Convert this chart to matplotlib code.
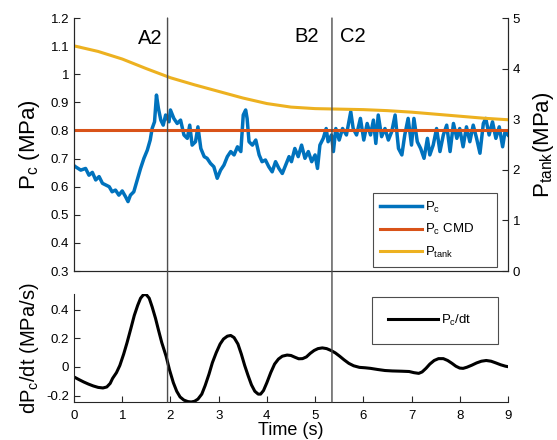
import numpy as np
import matplotlib.pyplot as plt
from matplotlib.patches import ConnectionPatch
from matplotlib.ticker import FormatStrFormatter

plt.rcParams['font.family'] = ['Liberation Sans', 'DejaVu Sans']
plt.rcParams['mathtext.default'] = 'regular'
plt.rcParams['axes.unicode_minus'] = False
plt.rcParams['xtick.direction'] = 'in'
plt.rcParams['ytick.direction'] = 'in'

# chamber pressure (MPa)
t_pc = [0.00, 0.03, 0.14, 0.24, 0.31, 0.38, 0.45, 0.52, 0.59, 0.66, 0.73, 0.79, 0.86,
        0.93, 1.00, 1.07, 1.12, 1.17, 1.24, 1.31, 1.38, 1.45, 1.52, 1.58, 1.62, 1.67,
        1.71, 1.75, 1.80, 1.85, 1.90, 1.97, 2.00, 2.07, 2.14, 2.21, 2.28, 2.35, 2.40,
        2.45, 2.52, 2.57, 2.63, 2.70, 2.76, 2.83, 2.90, 2.97, 3.04, 3.11, 3.18, 3.25,
        3.32, 3.39, 3.46, 3.51, 3.56, 3.59, 3.63, 3.70, 3.77, 3.84, 3.90, 3.97, 4.04,
        4.11, 4.18, 4.25, 4.32, 4.39, 4.46, 4.51, 4.58, 4.65, 4.72, 4.79, 4.86, 4.93,
        5.00, 5.05, 5.10, 5.17, 5.23, 5.27, 5.34, 5.38, 5.43, 5.50, 5.57, 5.65, 5.74,
        5.79, 5.86, 5.94, 6.01, 6.08, 6.15, 6.21, 6.26, 6.31, 6.38, 6.45, 6.52, 6.59,
        6.66, 6.73, 6.80, 6.86, 6.93, 7.00, 7.05, 7.12, 7.19, 7.26, 7.33, 7.38, 7.45,
        7.52, 7.59, 7.66, 7.73, 7.80, 7.87, 7.94, 8.00, 8.07, 8.14, 8.21, 8.28, 8.35,
        8.42, 8.49, 8.54, 8.61, 8.68, 8.75, 8.82, 8.89, 8.94, 9.00]
pc = [0.675, 0.671, 0.659, 0.665, 0.641, 0.651, 0.624, 0.636, 0.612, 0.606, 0.600, 0.582,
      0.588, 0.570, 0.585, 0.564, 0.547, 0.570, 0.582, 0.624, 0.665, 0.701, 0.730, 0.766,
      0.807, 0.831, 0.926, 0.879, 0.837, 0.819, 0.855, 0.831, 0.873, 0.843, 0.825, 0.837,
      0.784, 0.772, 0.819, 0.748, 0.760, 0.813, 0.736, 0.707, 0.701, 0.683, 0.671, 0.630,
      0.659, 0.677, 0.707, 0.725, 0.713, 0.742, 0.725, 0.855, 0.873, 0.843, 0.760, 0.748,
      0.766, 0.713, 0.689, 0.695, 0.671, 0.653, 0.689, 0.665, 0.647, 0.677, 0.707, 0.689,
      0.736, 0.707, 0.748, 0.701, 0.725, 0.689, 0.713, 0.665, 0.748, 0.772, 0.807, 0.760,
      0.784, 0.725, 0.807, 0.766, 0.807, 0.784, 0.867, 0.807, 0.784, 0.843, 0.766, 0.825,
      0.784, 0.837, 0.754, 0.855, 0.778, 0.807, 0.766, 0.796, 0.855, 0.736, 0.713, 0.784,
      0.843, 0.748, 0.843, 0.760, 0.736, 0.701, 0.772, 0.713, 0.748, 0.807, 0.725, 0.784,
      0.819, 0.725, 0.825, 0.772, 0.807, 0.742, 0.813, 0.760, 0.819, 0.772, 0.719, 0.825,
      0.843, 0.784, 0.831, 0.772, 0.813, 0.742, 0.796, 0.784]
pc_cmd = 0.8

# tank pressure (MPa)
t_tank = [0.0, 0.5, 1.0, 1.5, 2.0, 2.5, 3.0, 3.5, 4.0, 4.5, 5.0, 5.5, 6.0, 6.5, 7.0,
          7.5, 8.0, 8.5, 9.0]
p_tank = [4.45, 4.34, 4.19, 4.00, 3.82, 3.68, 3.55, 3.42, 3.31, 3.24, 3.21, 3.20, 3.19,
          3.17, 3.14, 3.10, 3.06, 3.02, 2.99]

# derivative of chamber pressure (MPa/s)
t_dpdt = [0.00, 0.10, 0.20, 0.30, 0.40, 0.50, 0.60, 0.68, 0.75, 0.80, 0.88, 0.95, 1.03,
          1.10, 1.18, 1.25, 1.32, 1.38, 1.44, 1.50, 1.56, 1.62, 1.69, 1.75, 1.82, 1.91,
          1.98, 2.06, 2.13, 2.20, 2.28, 2.36, 2.43, 2.50, 2.57, 2.65, 2.72, 2.80, 2.87,
          2.95, 3.03, 3.10, 3.18, 3.25, 3.32, 3.40, 3.47, 3.54, 3.61, 3.68, 3.75, 3.82,
          3.87, 3.93, 4.00, 4.08, 4.16, 4.24, 4.32, 4.42, 4.50, 4.58, 4.66, 4.74, 4.82,
          4.90, 4.98, 5.06, 5.15, 5.24, 5.33, 5.42, 5.51, 5.60, 5.70, 5.80, 5.92, 6.04,
          6.15, 6.30, 6.45, 6.60, 6.80, 6.95, 7.05, 7.15, 7.22, 7.30, 7.38, 7.47, 7.56,
          7.66, 7.75, 7.84, 7.92, 8.00, 8.07, 8.15, 8.25, 8.35, 8.45, 8.55, 8.65, 8.75,
          8.85, 8.95, 9.00]
dpdt = [-0.070, -0.088, -0.105, -0.120, -0.133, -0.143, -0.147, -0.140, -0.115, -0.080,
        -0.040, 0.010, 0.090, 0.170, 0.270, 0.360, 0.430, 0.480, 0.505, 0.505, 0.480,
        0.420, 0.340, 0.260, 0.170, 0.075, -0.020, -0.110, -0.170, -0.210, -0.232, -0.242,
        -0.245, -0.240, -0.225, -0.190, -0.130, -0.050, 0.030, 0.100, 0.160, 0.195, 0.215,
        0.220, 0.205, 0.160, 0.090, 0.010, -0.060, -0.125, -0.170, -0.190, -0.190, -0.165,
        -0.110, -0.040, 0.020, 0.055, 0.075, 0.083, 0.080, 0.068, 0.057, 0.058, 0.070,
        0.095, 0.115, 0.128, 0.133, 0.128, 0.115, 0.098, 0.075, 0.050, 0.025, 0.008,
        -0.003, -0.006, -0.010, -0.018, -0.025, -0.028, -0.030, -0.032, -0.040, -0.045,
        -0.035, -0.010, 0.020, 0.045, 0.058, 0.058, 0.045, 0.025, 0.005, -0.008, -0.010,
        -0.002, 0.012, 0.028, 0.040, 0.045, 0.040, 0.028, 0.015, 0.005, 0.002]

events = [1.94, 5.35]

blue = '#0072BD'
red = '#D95319'
yellow = '#EDB120'
axcol = '0.15'

fig = plt.figure(figsize=(5.57, 4.4), dpi=100)
ax1 = fig.add_axes([0.1329, 0.384, 0.779, 0.575])
ax1r = ax1.twinx()
ax2 = fig.add_axes([0.1329, 0.0864, 0.779, 0.2455])

# top: pressures
h1, = ax1.plot(t_pc, pc, color=blue, lw=2.5)
h2, = ax1.plot([t_pc[0], t_pc[-1]], [pc_cmd, pc_cmd], color=red, lw=2.2)
h3, = ax1r.plot(t_tank, p_tank, color=yellow, lw=2.2)

ax1.set_xlim(0, 9)
ax1.set_ylim(0.3, 1.2)
ax1.set_yticks(np.arange(0.3, 1.21, 0.1))
ax1.yaxis.set_major_formatter(FormatStrFormatter('%g'))
ax1.set_xticks([])
ax1r.set_ylim(0, 5)
ax1r.set_yticks(range(6))
for a in (ax1, ax1r):
    a.spines['top'].set_visible(False)
    for s in a.spines.values():
        s.set_color(axcol)
    a.tick_params(colors=axcol, labelsize=9.5, length=4, labelcolor='black')

ax1.set_ylabel('P$_c$ (MPa)', fontsize=16, labelpad=6)
ax1r.set_ylabel('P$_{tank}$(MPa)', fontsize=16, labelpad=8)

ax1.text(events[0] - 0.1, 1.127, 'A2', fontsize=14.5, ha='right', va='center')
ax1.text(events[1] - 0.27, 1.136, 'B2', fontsize=14.5, ha='right', va='center')
ax1.text(events[1] + 0.17, 1.136, 'C2', fontsize=14.5, ha='left', va='center')

leg = ax1r.legend([h1, h2, h3], ['P$_c$', 'P$_c$ CMD', 'P$_{tank}$'],
                  loc='lower left', mode='expand',
                  bbox_to_anchor=(373 / 557, 1 - 267 / 440, 124 / 557, 0.1),
                  bbox_transform=fig.transFigure, borderaxespad=0, fontsize=9.5,
                  handlelength=3.2, handletextpad=0.2, labelspacing=0.55,
                  borderpad=0.55, fancybox=False, framealpha=1, edgecolor='0.3')
leg.get_frame().set_linewidth(0.8)

# bottom: dPc/dt
h4, = ax2.plot(t_dpdt, dpdt, color='black', lw=2.2)
ax2.set_xlim(0, 9)
ax2.set_ylim(-0.245, 0.51)
ax2.set_xticks(range(10))
ax2.set_yticks([-0.2, 0, 0.2, 0.4])
ax2.yaxis.set_major_formatter(FormatStrFormatter('%g'))
ax2.spines['top'].set_visible(False)
ax2.spines['right'].set_visible(False)
for s in ax2.spines.values():
    s.set_color(axcol)
ax2.tick_params(colors=axcol, labelsize=9.5, length=4, labelcolor='black')
ax2.tick_params(axis='x', pad=6)
ax2.set_xlabel('Time (s)', fontsize=13, labelpad=0)
ax2.set_ylabel('dP$_c$/dt (MPa/s)', fontsize=14.5, labelpad=4)

leg2 = ax2.legend([h4], ['P$_c$/dt'], loc='lower left', mode='expand',
                  bbox_to_anchor=(372 / 557, 1 - 344 / 440, 126 / 557, 0.1),
                  bbox_transform=fig.transFigure, borderaxespad=0, fontsize=9.5,
                  handlelength=3.8, handletextpad=0.2, borderpad=1.2,
                  fancybox=False, framealpha=1, edgecolor='0.3')
leg2.get_frame().set_linewidth(0.8)

# event markers spanning both panels
for x in events:
    cp = ConnectionPatch(xyA=(x, 1.2), coordsA=ax1.transData,
                         xyB=(x, -0.245), coordsB=ax2.transData,
                         color='0.3', lw=1)
    fig.add_artist(cp)

fig.savefig('out.png', dpi=100)
